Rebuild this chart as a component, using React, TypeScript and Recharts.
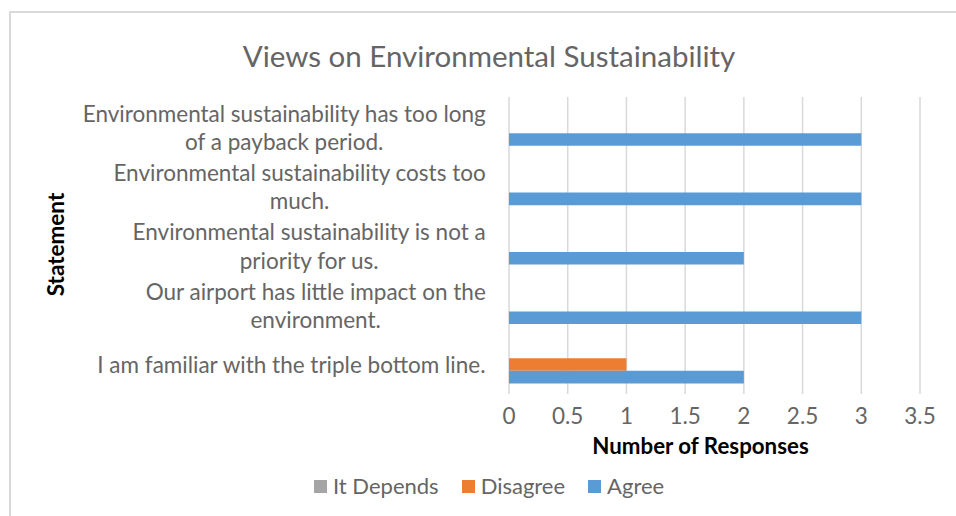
import React from 'react';
import { BarChart, Bar, XAxis, YAxis, CartesianGrid, Label } from 'recharts';

// Survey statements, listed top to bottom as they appear on the category axis
const statements: string[] = [
  'Environmental sustainability has too long of a payback period.',
  'Environmental sustainability costs too much.',
  'Environmental sustainability is not a priority for us.',
  'Our airport has little impact on the environment.',
  'I am familiar with the triple bottom line.',
];

// Response counts per statement
const itDepends: number[] = [0, 0, 0, 0, 0];
const disagree: number[] = [0, 0, 0, 0, 1];
const agree: number[] = [3, 3, 2, 3, 2];

const xTicks: number[] = [0, 0.5, 1, 1.5, 2, 2.5, 3, 3.5];

const seriesKeys = ['itDepends', 'disagree', 'agree'];
const seriesNames = ['It Depends', 'Disagree', 'Agree'];
const seriesColors = ['#A5A5A5', '#ED7D31', '#5B9BD5'];

const chartTitle = 'Views on Environmental Sustainability';
const xTitle = 'Number of Responses';
const yTitle = 'Statement';

const data = statements.map((s, i) => ({
  statement: s,
  itDepends: itDepends[i],
  disagree: disagree[i],
  agree: agree[i],
}));

const FONT = 'Lato, "Noto Sans", sans-serif';
const TEXT_GRAY = '#656565';
const LABEL_SIZE = 22.5;

// Break a label into lines of at most `max` characters on word boundaries
function wrap(text: string, max: number): string[] {
  const words = text.split(' ');
  const lines: string[] = [];
  let cur = '';
  for (const w of words) {
    const next = cur ? cur + ' ' + w : w;
    if (next.length > max && cur) {
      lines.push(cur);
      cur = w;
    } else {
      cur = next;
    }
  }
  if (cur) lines.push(cur);
  return lines;
}

let measureCtx: CanvasRenderingContext2D | null = null;
function textWidth(s: string, size: number): number {
  if (!measureCtx) {
    const c = document.createElement('canvas');
    measureCtx = c.getContext('2d');
  }
  if (!measureCtx) return s.length * size * 0.5;
  measureCtx.font = `${size}px Lato, "Noto Sans", sans-serif`;
  return measureCtx.measureText(s).width;
}

// Multi-line category label: block right-aligned to the axis, lines centred in the block
const StatementTick = (props: any) => {
  const { x, y, payload } = props;
  const lines = wrap(String(payload.value), 42);
  const lh = 28.4;
  const start = y - ((lines.length - 1) * lh) / 2;
  const blockW = Math.max(...lines.map((l) => textWidth(l, LABEL_SIZE)));
  const cx = x - blockW / 2;
  return (
    <text
      x={cx}
      y={start}
      textAnchor="middle"
      fill={TEXT_GRAY}
      fontFamily={FONT}
      fontSize={LABEL_SIZE}
      dominantBaseline="central"
    >
      {lines.map((l, i) => (
        <tspan key={i} x={cx} y={start + i * lh} dominantBaseline="central">
          {l}
        </tspan>
      ))}
    </text>
  );
};

export default function App() {
  return (
    <div
      style={{
        position: 'absolute',
        left: 0,
        top: 0,
        width: 956,
        height: 516,
        background: '#fff',
        overflow: 'hidden',
        fontFamily: FONT,
      }}
    >
      {/* chart frame */}
      <div
        style={{
          position: 'absolute',
          left: 9,
          top: 11,
          width: 960,
          height: 520,
          borderLeft: '2px solid #D9D9D9',
          borderTop: '2px solid #D9D9D9',
        }}
      />
      <div
        style={{
          position: 'absolute',
          left: 489,
          top: 56,
          transform: 'translate(-50%, -50%)',
          whiteSpace: 'nowrap',
          fontSize: 29.5,
          color: TEXT_GRAY,
          lineHeight: 1,
        }}
      >
        {chartTitle}
      </div>
      <div style={{ position: 'absolute', left: 0, top: 0 }}>
        <BarChart
          width={956}
          height={516}
          data={data}
          layout="vertical"
          margin={{ top: 97, right: 36, bottom: 0, left: 0 }}
          barGap={0}
          barSize={12.6}
        >
          <CartesianGrid horizontal={false} stroke="#D9D9D9" strokeWidth={1.5} />
          <XAxis
            type="number"
            domain={[0, 3.5]}
            ticks={xTicks}
            height={122}
            axisLine={false}
            tickLine={false}
            tickSize={0}
            tickMargin={14}
            tick={{ fill: TEXT_GRAY, fontSize: LABEL_SIZE, fontFamily: FONT }}
            interval={0}
          >
            <Label
              content={(p: any) => {
                const vb = p.viewBox || { x: 509, y: 394, width: 411 };
                return (
                  <text
                    x={vb.x + vb.width / 2 - 14}
                    y={vb.y + 51}
                    textAnchor="middle"
                    dominantBaseline="central"
                    fontFamily={FONT}
                    fontWeight="bold"
                    fontSize={22.3}
                    fill="#000"
                  >
                    {xTitle}
                  </text>
                );
              }}
            />
          </XAxis>
          <YAxis
            type="category"
            dataKey="statement"
            width={509}
            axisLine={false}
            tickLine={false}
            tickSize={0}
            tickMargin={23}
            tick={<StatementTick />}
            interval={0}
          >
            <Label
              content={(p: any) => {
                const vb = p.viewBox || { y: 97, height: 297 };
                const cy = vb.y + vb.height / 2 - 1;
                return (
                  <text
                    x={55}
                    y={cy}
                    transform={`rotate(-90, 55, ${cy})`}
                    textAnchor="middle"
                    dominantBaseline="central"
                    fontFamily={FONT}
                    fontWeight="bold"
                    fontSize={22.5}
                    fill="#000"
                  >
                    {yTitle}
                  </text>
                );
              }}
            />
          </YAxis>
          {seriesKeys.map((k, i) => (
            <Bar
              key={k}
              dataKey={k}
              name={seriesNames[i]}
              fill={seriesColors[i]}
              isAnimationActive={false}
            />
          ))}
        </BarChart>
      </div>
      {/* legend */}
      <div
        style={{
          position: 'absolute',
          left: 314,
          top: 475,
          display: 'flex',
          alignItems: 'center',
          gap: 23,
          fontSize: 22,
          color: TEXT_GRAY,
          lineHeight: '22px',
          whiteSpace: 'nowrap',
        }}
      >
        {seriesNames.map((n, i) => (
          <div key={n} style={{ display: 'flex', alignItems: 'center' }}>
            <span
              style={{
                display: 'inline-block',
                width: 13,
                height: 13,
                background: seriesColors[i],
                marginRight: 6,
              }}
            />
            <span>{n}</span>
          </div>
        ))}
      </div>
    </div>
  );
}
